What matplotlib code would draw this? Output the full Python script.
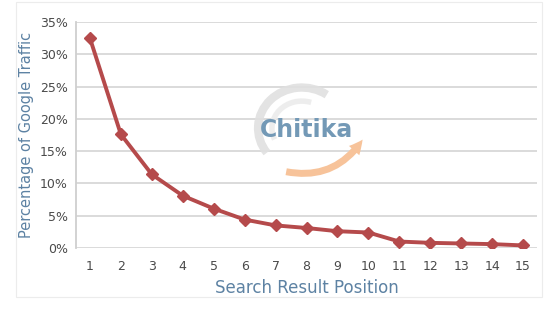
import matplotlib.pyplot as plt
from matplotlib.patches import Rectangle, Arc, FancyArrowPatch
import numpy as np

# search result position vs share of google traffic (Chitika)
positions = [1, 2, 3, 4, 5, 6, 7, 8, 9, 10, 11, 12, 13, 14, 15]
traffic = [32.5, 17.6, 11.4, 8.1, 6.1, 4.4, 3.5, 3.1, 2.6, 2.4, 1.0, 0.8, 0.7, 0.6, 0.4]
yticks = [0, 5, 10, 15, 20, 25, 30, 35]

line_col = '#b54a4b'
label_col = '#5d82a3'
tick_col = '#4a4a4a'

fig = plt.figure(figsize=(5.58, 3.12), dpi=100)
fig.patch.set_facecolor('white')

# faint panel border
fig.patches.append(Rectangle((16 / 558, 15 / 312), 526 / 558, 295 / 312,
                             transform=fig.transFigure, fill=False,
                             edgecolor='#ececec', lw=0.8))

ax = fig.add_axes([76 / 558, 64 / 312, 461 / 558, 226 / 312])
ax.set_xlim(0.55, 15.45)
ax.set_ylim(0, 35)
ax.set_yticks(yticks)
ax.set_yticklabels(['{}%'.format(t) for t in yticks])
ax.set_xticks(positions)
ax.grid(axis='y', color='#d8d8d8', lw=1.3)
ax.set_axisbelow(True)
for s in ['top', 'right', 'bottom']:
    ax.spines[s].set_visible(False)
ax.spines['left'].set_color('#cfcfcf')
ax.spines['left'].set_linewidth(1.3)
ax.tick_params(length=0, labelsize=9, colors=tick_col)
ax.tick_params(axis='x', pad=9)
ax.tick_params(axis='y', pad=6)

# logo watermark
ax.add_patch(Arc((0.49, 0.53), 0.19, 0.36, theta1=70, theta2=235,
                 transform=ax.transAxes, color='#e0e0e0', lw=6, alpha=0.9))
ax.add_patch(Arc((0.49, 0.53), 0.13, 0.24, theta1=80, theta2=220,
                 transform=ax.transAxes, color='#ececec', lw=4, alpha=0.9))
ax.add_patch(FancyArrowPatch((0.45, 0.34), (0.625, 0.49),
                             connectionstyle='arc3,rad=0.35',
                             transform=ax.transAxes, color='#f7c39a',
                             arrowstyle='simple,head_width=10,head_length=10,tail_width=5',
                             lw=0))
ax.text(0.5, 0.52, 'Chitika', transform=ax.transAxes,
        fontsize=17, fontweight='bold', color='#7399b6', ha='center', va='center')

ax.plot(positions, traffic, color=line_col, lw=2.8, marker='D', markersize=6,
        markerfacecolor=line_col, markeredgecolor=line_col, zorder=3)

ax.set_xlabel('Search Result Position', fontsize=12, color=label_col, labelpad=4)
ax.set_ylabel('Percentage of Google Traffic', fontsize=10.5, color=label_col, labelpad=4)

fig.savefig('out.png', dpi=100)
